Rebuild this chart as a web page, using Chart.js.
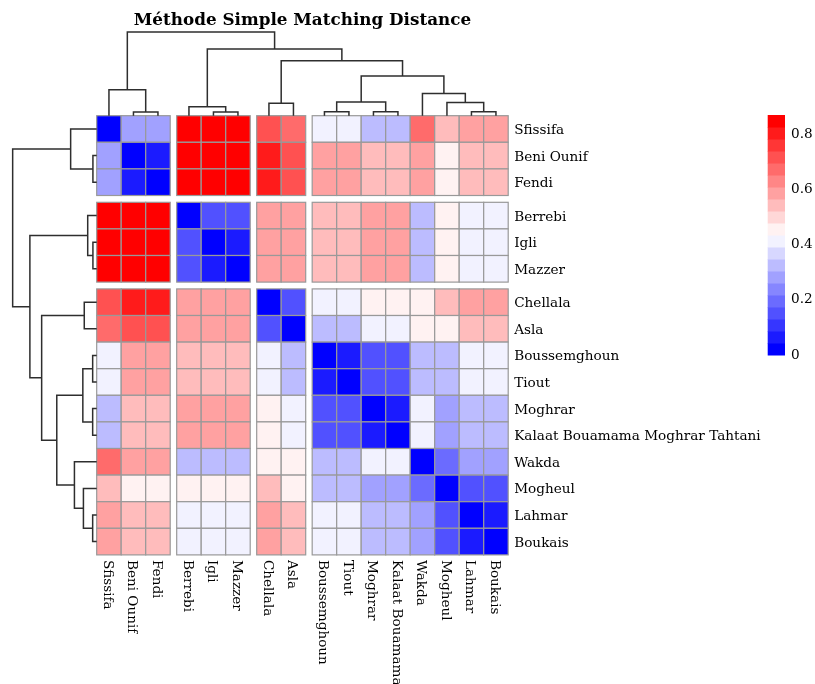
<!DOCTYPE html>
<html>
<head>
<meta charset="utf-8">
<title>Méthode Simple Matching Distance</title>
<script src="https://cdn.jsdelivr.net/npm/chart.js@4.4.0/dist/chart.umd.min.js"></script>
<style>
  html, body { margin: 0; padding: 0; background: #fff; }
</style>
</head>
<body>
<canvas id="heatmap" width="815" height="684"></canvas>
<script>
"use strict";

// sites, in the order given by the clustering
const sites = ["Sfissifa", "Beni Ounif", "Fendi", "Berrebi", "Igli", "Mazzer", "Chellala", "Asla",
    "Boussemghoun", "Tiout", "Moghrar", "Kalaat Bouamama Moghrar Tahtani", "Wakda", "Mogheul", "Lahmar", "Boukais"];

// simple matching distance between sites (rows / columns follow `sites`)
const distances = [
    [0.00, 0.28, 0.28, 0.87, 0.87, 0.86, 0.72, 0.68, 0.42, 0.42, 0.33, 0.33, 0.68, 0.55, 0.59, 0.59],
    [0.28, 0.00, 0.07, 0.86, 0.86, 0.86, 0.81, 0.72, 0.59, 0.59, 0.55, 0.55, 0.59, 0.46, 0.55, 0.55],
    [0.28, 0.07, 0.00, 0.86, 0.86, 0.86, 0.81, 0.72, 0.59, 0.59, 0.55, 0.55, 0.59, 0.46, 0.55, 0.55],
    [0.87, 0.86, 0.86, 0.00, 0.15, 0.15, 0.59, 0.59, 0.55, 0.55, 0.59, 0.59, 0.33, 0.46, 0.42, 0.42],
    [0.87, 0.86, 0.86, 0.15, 0.00, 0.07, 0.59, 0.59, 0.55, 0.55, 0.59, 0.59, 0.33, 0.46, 0.42, 0.42],
    [0.86, 0.86, 0.86, 0.15, 0.07, 0.00, 0.59, 0.59, 0.55, 0.55, 0.59, 0.59, 0.33, 0.46, 0.42, 0.42],
    [0.72, 0.81, 0.81, 0.59, 0.59, 0.59, 0.00, 0.15, 0.42, 0.42, 0.46, 0.46, 0.46, 0.55, 0.59, 0.59],
    [0.68, 0.72, 0.72, 0.59, 0.59, 0.59, 0.15, 0.00, 0.33, 0.33, 0.42, 0.42, 0.46, 0.46, 0.55, 0.55],
    [0.42, 0.59, 0.59, 0.55, 0.55, 0.55, 0.42, 0.33, 0.00, 0.07, 0.15, 0.15, 0.33, 0.33, 0.42, 0.42],
    [0.42, 0.59, 0.59, 0.55, 0.55, 0.55, 0.42, 0.33, 0.07, 0.00, 0.15, 0.15, 0.33, 0.33, 0.42, 0.42],
    [0.33, 0.55, 0.55, 0.59, 0.59, 0.59, 0.46, 0.42, 0.15, 0.15, 0.00, 0.07, 0.42, 0.28, 0.33, 0.33],
    [0.33, 0.55, 0.55, 0.59, 0.59, 0.59, 0.46, 0.42, 0.15, 0.15, 0.07, 0.00, 0.42, 0.28, 0.33, 0.33],
    [0.68, 0.59, 0.59, 0.33, 0.33, 0.33, 0.46, 0.46, 0.33, 0.33, 0.42, 0.42, 0.00, 0.20, 0.28, 0.28],
    [0.55, 0.46, 0.46, 0.46, 0.46, 0.46, 0.55, 0.46, 0.33, 0.33, 0.28, 0.28, 0.20, 0.00, 0.15, 0.15],
    [0.59, 0.55, 0.55, 0.42, 0.42, 0.42, 0.59, 0.55, 0.42, 0.42, 0.33, 0.33, 0.28, 0.15, 0.00, 0.07],
    [0.59, 0.55, 0.55, 0.42, 0.42, 0.42, 0.59, 0.55, 0.42, 0.42, 0.33, 0.33, 0.28, 0.15, 0.07, 0.00]
];

// hclust-style merges: negative = leaf number (1-based), positive = earlier merge (1-based)
const mergeA = [-2, -5, -9, -11, -15, -4, -7, -14, 3, -13, -1, 9, 7, 6, 11];
const mergeB = [-3, -6, -10, -12, -16, 2, -8, 5, 4, 8, 1, 10, 12, 13, 14];
const mergeHeight = [0.045, 0.045, 0.048, 0.048, 0.048, 0.107, 0.148, 0.158, 0.165, 0.265, 0.31, 0.475, 0.655, 0.795, 1.0];

// tree cut: a gap is left before these columns / rows
const colCuts = [3, 6, 8];
const rowCuts = [3, 6];

const legendTicks = [0, 0.2, 0.4, 0.6, 0.8];

// ---- layout constants ----
const nColors = 20;
const gapX = 0.265, gapY = 0.256;    // gap between blocks, in cell units
const topSpan = 3.15, leftSpan = 3.43; // dendrogram depth, in cell units
const labelFont = "13.6px 'DejaVu Serif'";
const n = sites.length;
const vmax = Math.max(...distances.map(r => Math.max(...r)));

// blue - white - red ramp, like colorRampPalette(c("blue","white","red"))
const palette = [];
for (let i = 0; i < nColors; i++) {
    let t = i / (nColors - 1);
    let r, g, b;
    if (t <= 0.5) {
        let f = t / 0.5;
        r = g = Math.round(255 * f); b = 255;
    } else {
        let f = (t - 0.5) / 0.5;
        r = 255; g = b = Math.round(255 * (1 - f));
    }
    palette.push(`rgb(${r},${g},${b})`);
}

function colorFor(v) {
    let idx = Math.floor(v / vmax * nColors);
    return palette[Math.max(0, Math.min(nColors - 1, idx))];
}

function colStart(j) { return j + gapX * colCuts.filter(c => c <= j).length; }
function rowStart(i) { return i + gapY * rowCuts.filter(c => c <= i).length; }

// builds one polyline per merge (the usual bracket shape)
function dendroLinks(leafPos, place) {
    let pos = [], hgt = [], links = [];
    const node = k => k < 0 ? [leafPos(-k - 1), 0] : [pos[k - 1], hgt[k - 1]];
    for (let m = 0; m < mergeA.length; m++) {
        let [pa, ha] = node(mergeA[m]);
        let [pb, hb] = node(mergeB[m]);
        let h = mergeHeight[m];
        pos.push((pa + pb) / 2);
        hgt.push(h);
        links.push([place(pa, ha), place(pa, h), place(pb, h), place(pb, hb)]);
    }
    return links;
}

const topLinks = dendroLinks(j => colStart(j) + 0.5, (p, h) => ({ x: p, y: -h * topSpan }));
const leftLinks = dendroLinks(i => rowStart(i) + 0.5, (p, h) => ({ x: -h * leftSpan, y: p }));

const datasets = topLinks.concat(leftLinks).map(pts => ({
    data: pts,
    showLine: true,
    borderColor: "#2e2e2e",
    borderWidth: 1.5,
    pointRadius: 0,
    clip: false
}));

const heatmapPlugin = {
    id: "heatmapCells",
    beforeDatasetsDraw(chart) {
        const ctx = chart.ctx, sx = chart.scales.x, sy = chart.scales.y;
        ctx.save();
        for (let i = 0; i < n; i++) {
            for (let j = 0; j < n; j++) {
                let x0 = sx.getPixelForValue(colStart(j)), x1 = sx.getPixelForValue(colStart(j) + 1);
                let y0 = sy.getPixelForValue(rowStart(i)), y1 = sy.getPixelForValue(rowStart(i) + 1);
                ctx.fillStyle = colorFor(distances[i][j]);
                ctx.fillRect(x0, y0, x1 - x0, y1 - y0);
                ctx.strokeStyle = "#999999";
                ctx.lineWidth = 1.2;
                ctx.strokeRect(x0, y0, x1 - x0, y1 - y0);
            }
        }
        ctx.restore();
    },
    afterDraw(chart) {
        const ctx = chart.ctx, sx = chart.scales.x, sy = chart.scales.y, area = chart.chartArea;
        ctx.save();
        ctx.fillStyle = "#000";
        ctx.font = labelFont;

        // row names
        ctx.textAlign = "left";
        ctx.textBaseline = "alphabetic";
        for (let i = 0; i < n; i++) {
            let y = sy.getPixelForValue(rowStart(i) + 0.5);
            ctx.fillText(sites[i], area.right + 6, y + 5);
        }

        // column names, turned to read downwards
        for (let j = 0; j < n; j++) {
            let x = sx.getPixelForValue(colStart(j) + 0.5);
            ctx.save();
            ctx.translate(x - 5, area.bottom + 5);
            ctx.rotate(Math.PI / 2);
            ctx.fillText(sites[j], 0, 0);
            ctx.restore();
        }

        // colour key
        const kx = 767.7, kw = 17.3, kBottom = 355, kTop = 115;
        const band = (kBottom - kTop) / nColors;
        for (let c = 0; c < nColors; c++) {
            ctx.fillStyle = palette[c];
            ctx.fillRect(kx, kBottom - (c + 1) * band, kw, band + 0.5);
        }
        ctx.fillStyle = "#000";
        ctx.textBaseline = "middle";
        legendTicks.forEach(t => {
            let y = kBottom - t / vmax * (kBottom - kTop);
            ctx.fillText(String(t), kx + kw + 6, y);
        });

        // title
        ctx.font = "bold 16.8px 'DejaVu Serif'";
        ctx.textAlign = "center";
        ctx.textBaseline = "alphabetic";
        ctx.fillText("Méthode Simple Matching Distance", (area.left + area.right) / 2, 25);
        ctx.restore();
    }
};

new Chart(document.getElementById("heatmap"), {
    type: "scatter",
    data: { datasets: datasets },
    options: {
        responsive: false,
        animation: false,
        layout: { padding: { left: 96.7, right: 306.8, top: 115.7, bottom: 129.1 } },
        scales: {
            x: { type: "linear", display: false, min: 0, max: n + gapX * colCuts.length },
            y: { type: "linear", display: false, reverse: true, min: 0, max: n + gapY * rowCuts.length }
        },
        plugins: {
            legend: { display: false },
            tooltip: { enabled: false },
            title: { display: false }
        }
    },
    plugins: [heatmapPlugin]
});
</script>
</body>
</html>
